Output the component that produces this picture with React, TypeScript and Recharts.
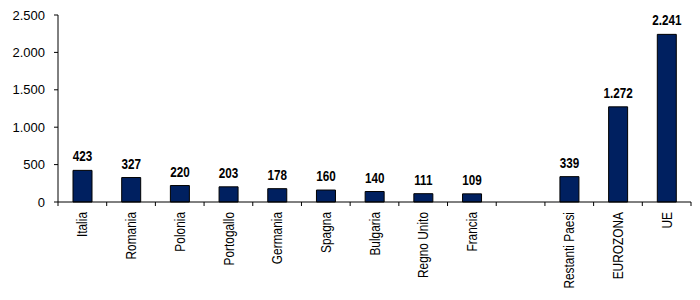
import { BarChart, Bar, XAxis, YAxis, LabelList } from 'recharts'

const categories = [
  'Italia',
  'Romania',
  'Polonia',
  'Portogallo',
  'Germania',
  'Spagna',
  'Bulgaria',
  'Regno Unito',
  'Francia',
  '',
  'Restanti Paesi',
  'EUROZONA',
  'UE',
]
const values: Array<number | null> = [423, 327, 220, 203, 178, 160, 140, 111, 109, null, 339, 1272, 2241]
const yTicks = [0, 500, 1000, 1500, 2000, 2500]

const data = categories.map((name, i) => ({ name, value: values[i] }))

const font = '"Liberation Sans", Arial, sans-serif'

// 1.272 style thousands separator
const fmt = (v: number | null | undefined) =>
  v === null || v === undefined ? '' : String(v).replace(/\B(?=(\d{3})+(?!\d))/g, '.')

function CategoryTick(props: any) {
  const { x, y, payload, index, width, visibleTicksCount } = props
  const band = width / visibleTicksCount
  const last = index === visibleTicksCount - 1
  return (
    <g>
      <line x1={x - band / 2} x2={x - band / 2} y1={y - 10} y2={y - 6} stroke="#000" />
      {last && <line x1={x + band / 2} x2={x + band / 2} y1={y - 10} y2={y - 6} stroke="#000" />}
      <text
        x={0}
        y={0}
        dy="0.35em"
        transform={`translate(${x},${y}) rotate(-90) scale(0.82,1)`}
        textAnchor="end"
        fontFamily={font}
        fontSize={14.5}
        fill="#000"
      >
        {payload.value}
      </text>
    </g>
  )
}

// condensed bold value label, like Arial Narrow
function ValueLabel(props: any) {
  const { x, y, width, value } = props
  if (value === null || value === undefined) return null
  return (
    <text
      x={0}
      y={0}
      transform={`translate(${x + width / 2},${y - 9}) scale(0.78,1)`}
      textAnchor="middle"
      fontFamily={font}
      fontSize={15}
      fontWeight="bold"
      fill="#000"
    >
      {fmt(value)}
    </text>
  )
}

export default function App() {
  return (
    <div style={{ position: 'absolute', left: 0, top: 0, background: '#fff' }}>
      <BarChart width={700} height={300} data={data} margin={{ top: 15, right: 9, bottom: 0, left: 0 }}>
        <XAxis
          dataKey="name"
          interval={0}
          height={98}
          tickLine={false}
          tickMargin={0}
          tickSize={10}
          axisLine={{ stroke: '#000' }}
          tick={<CategoryTick />}
        />
        <YAxis
          domain={[0, 2500]}
          ticks={yTicks}
          width={58}
          tickSize={4}
          tickMargin={9}
          axisLine={{ stroke: '#000' }}
          tickLine={{ stroke: '#000' }}
          tickFormatter={fmt}
          tick={{ fill: '#000', fontSize: 13, fontFamily: font }}
        />
        <Bar dataKey="value" fill="#002060" stroke="#000" strokeWidth={1} barSize={19} isAnimationActive={false}>
          <LabelList dataKey="value" content={<ValueLabel />} />
        </Bar>
      </BarChart>
    </div>
  )
}
